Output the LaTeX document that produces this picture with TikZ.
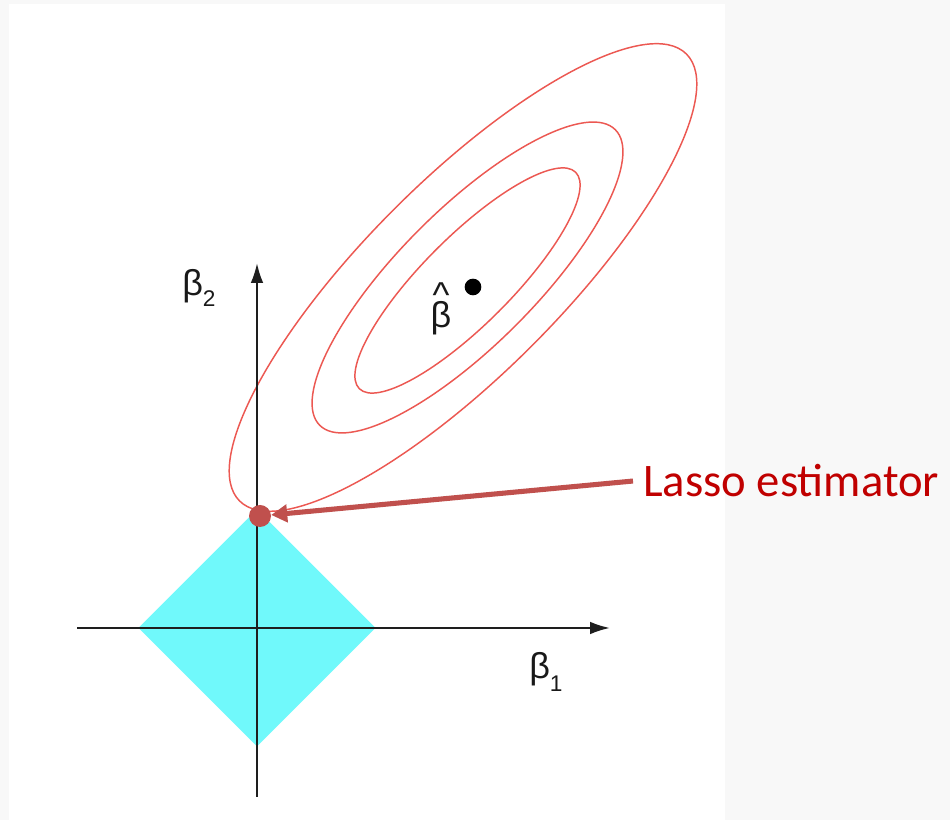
\documentclass[tikz,border=0pt]{standalone}
\usepackage{fontspec}
\setmainfont{Liberation Sans}
\newfontfamily\calibri{Carlito}
\usetikzlibrary{arrows.meta}
\definecolor{bggray}{RGB}{248,248,248}
\definecolor{diamondcyan}{RGB}{112,249,251}
\definecolor{contourred}{RGB}{236,88,82}
\definecolor{lassored}{RGB}{192,80,77}
\definecolor{labelred}{RGB}{192,0,0}
\definecolor{axisgray}{RGB}{30,30,30}
\tikzset{
  axisline/.style={draw=axisgray, line width=1.6pt, -{Latex[length=15pt,width=9.5pt]}},
  contour/.style={draw=contourred, line width=1.1pt},
  greek/.style={inner sep=0pt, font=\fontsize{27}{27}\selectfont, text=black!90},
}
\begin{document}
\begin{tikzpicture}[x=0.75pt,y=0.75pt]
\useasboundingbox (0,0) rectangle (950,820);
\fill[bggray] (0,0) rectangle (950,820);
\fill[white] (9,0) rectangle (725,816);

% constraint region
\fill[diamondcyan] (138.5,192) -- (257,310.5) -- (375.5,192) -- (257,73.5) -- cycle;

% contours
\coordinate (c1) at (463,542.5);
\coordinate (c2) at (467.5,542.5);
\coordinate (c3) at (467.5,539.5);
\draw[contour, rotate around={45:(c1)}] (c1) ellipse [x radius=316, y radius=97];
\draw[contour, rotate around={45:(c2)}] (c2) ellipse [x radius=209, y radius=68];
\draw[contour, rotate around={45:(c3)}] (c3) ellipse [x radius=153, y radius=44];

% axes
\coordinate (ybot) at (257,23);
\coordinate (ytop) at (257,557);
\coordinate (xleft) at (77,192);
\coordinate (xright) at (610,192);
\draw[axisline] (ybot) -- (ytop);
\draw[axisline] (xleft) -- (xright);

% labels
\node[greek, anchor=base west] (b2) at (182,524) {β\raisebox{-0.3em}{\fontsize{17}{17}\selectfont 2}};
\node[greek, anchor=base west] (b1) at (529,141) {β\raisebox{-0.35em}{\fontsize{17}{17}\selectfont 1}};
\node[greek, anchor=base] (bhat) at (441,492) {\ooalign{β\cr\hidewidth\raisebox{0.58em}{\char"005E}\hidewidth\cr}};

% OLS estimate
\node[circle, fill=black, inner sep=0pt, minimum size=12.5pt] (ols) at (473,533) {};

% lasso estimate
\node[circle, fill=lassored, inner sep=0pt, minimum size=16.5pt] (lasso) at (260,304) {};
\node[anchor=base west, inner xsep=7.5pt, inner ysep=0pt, text=labelred, font=\calibri\fontsize{35}{35}\selectfont] (lbl) at (633,323) {Lasso estimator};
\draw[lassored, line width=3.8pt, -{Triangle[length=12pt,width=13pt]}] (lbl.west) -- (lasso);
\end{tikzpicture}
\end{document}
